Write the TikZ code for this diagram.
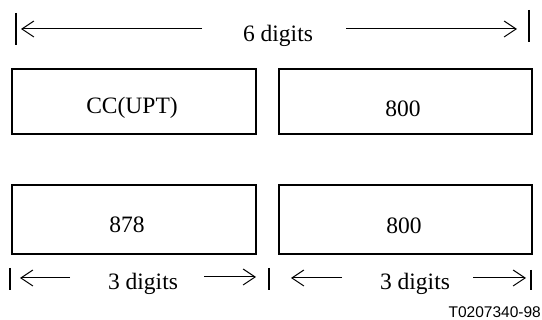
\documentclass[tikz,border=0pt]{standalone}
\usepackage{fontspec}
\setmainfont{Liberation Serif}
\newfontfamily\figsans{Liberation Sans}
\usetikzlibrary{arrows.meta}
\begin{document}
\begin{tikzpicture}[x=1pt,y=-1pt,
  field/.style={draw, line width=1.3pt, rectangle, inner sep=0pt, outer sep=0pt, anchor=north west},
  fieldtext/.style={anchor=base, inner sep=0pt, font=\fontsize{23.5pt}{26pt}\selectfont},
  dimtext/.style={anchor=base, inner sep=0pt, font=\fontsize{23.5pt}{26pt}\selectfont},
  dimarrow/.style={line width=1pt, -{Straight Barb[length=12pt, width=16pt, line width=1pt]}},
  limit/.style={line width=1.3pt}]
  \useasboundingbox (0,0) rectangle (542,320);

  % overall width
  \coordinate (tl) at (16,13);   \coordinate (tlb) at (16,45);
  \coordinate (tr) at (529,10);  \coordinate (trb) at (529,42);
  \draw[limit] (tl) -- (tlb);
  \draw[limit] (tr) -- (trb);
  \node[dimtext] (six) at (278,42) {6 digits};
  \coordinate (sixL) at (202,29); \coordinate (sixLtip) at (21,29);
  \coordinate (sixR) at (346,29); \coordinate (sixRtip) at (517,29);
  \draw[dimarrow] (sixL) -- (sixLtip);
  \draw[dimarrow] (sixR) -- (sixRtip);

  % upper row of fields
  \node[field, minimum width=244pt, minimum height=65pt] (cc) at (12,69) {};
  \node[field, minimum width=253pt, minimum height=65pt] (ndcA) at (279,69) {};
  \node[fieldtext] (ccT) at (132,114) {CC(UPT)};
  \node[fieldtext] (ndcAT) at (403,117) {800};

  % lower row of fields
  \node[field, minimum width=244pt, minimum height=69pt] (ic) at (12,185) {};
  \node[field, minimum width=253pt, minimum height=69pt] (ndcB) at (279,185) {};
  \node[fieldtext] (icT) at (127,233) {878};
  \node[fieldtext] (ndcBT) at (404,234) {800};

  % widths of the lower fields
  \coordinate (b1) at (10,268);  \coordinate (b1b) at (10,290);
  \coordinate (b2) at (269,268); \coordinate (b2b) at (269,290);
  \coordinate (b3) at (531,270); \coordinate (b3b) at (531,290);
  \draw[limit] (b1) -- (b1b);
  \draw[limit] (b2) -- (b2b);
  \draw[limit] (b3) -- (b3b);
  \node[dimtext] (threeA) at (143,290) {3 digits};
  \node[dimtext] (threeB) at (415,290) {3 digits};
  \coordinate (aL) at (70,278);   \coordinate (aLtip) at (20,278);
  \coordinate (aR) at (204,277);  \coordinate (aRtip) at (256,277);
  \coordinate (bL) at (342,278);  \coordinate (bLtip) at (291,278);
  \coordinate (bR) at (473,278);  \coordinate (bRtip) at (526,278);
  \draw[dimarrow] (aL) -- (aLtip);
  \draw[dimarrow] (aR) -- (aRtip);
  \draw[dimarrow] (bL) -- (bLtip);
  \draw[dimarrow] (bR) -- (bRtip);

  % figure reference
  \node[anchor=base east, inner sep=0pt, font=\figsans\fontsize{15.5pt}{18pt}\selectfont] (ref) at (541,318) {T0207340-98};
\end{tikzpicture}
\end{document}
